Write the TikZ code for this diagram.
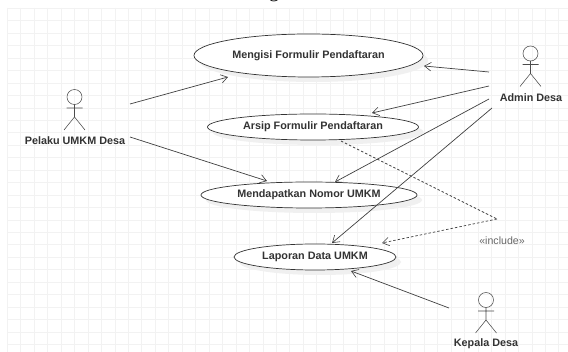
\documentclass[tikz,border=0pt]{standalone}
\usepackage{fontspec}
\setmainfont{Liberation Sans}
\newfontfamily\serifcut{Liberation Serif}
\usetikzlibrary{arrows.meta,shapes.geometric}
\tikzset{
 x=1pt,y=-1pt,
 usecase/.style={draw=black!80,line width=.7pt,fill=white,shape=ellipse,inner sep=0pt,font=\fontsize{10.8}{12}\selectfont\bfseries,text=black!80},
 lbl/.style={font=\fontsize{10.8}{12}\selectfont\bfseries,text=black!80,inner sep=0pt},
 conn/.style={draw=black!75,line width=.7pt,-{Straight Barb[length=6.5pt,width=8.5pt,line width=.6pt]}},
 dep/.style={conn,dash pattern=on 2.5pt off 2pt},
 act/.style={draw=black!70,line width=.55pt}
}
\newcommand{\actorfig}[2]{%
 \draw[act] (#1,#2) circle (7.5);
 \draw[act] (#1,#2+7.5) -- (#1,#2+20) (#1-8,#2+11) -- (#1+8,#2+11) (#1-10.5,#2+33) -- (#1,#2+20) -- (#1+10.5,#2+33);}
\begin{document}
\begin{tikzpicture}
\useasboundingbox (0,0) rectangle (568,352);
\fill[white] (0,0) rectangle (568,352);
\begin{scope}
\clip (7,8) rectangle (568,352);
\foreach \i in {0,...,41}{\draw[black!5,line width=.7pt] (7.3+13.45*\i,8)--(7.3+13.45*\i,352);}
\foreach \i in {0,...,27}{\draw[black!5,line width=.7pt] (7,8.3+12.45*\i)--(568,8.3+12.45*\i);}
\end{scope}
\fill[black!6] (313.5,60.5) ellipse (114.5 and 21.5);
\fill[black!6] (318,132) ellipse (105.5 and 13);
\fill[black!6] (314,200) ellipse (108 and 13);
\fill[black!6] (320,262) ellipse (81 and 13);
\node[font=\serifcut\fontsize{20}{22}\selectfont,inner sep=0pt,anchor=base] (ttl) at (274,-2.5) {g};
\node[usecase,minimum width=229pt,minimum height=43pt] (u1) at (308.5,55.5) {Mengisi Formulir Pendaftaran};
\node[usecase,minimum width=211pt,minimum height=26pt] (u2) at (313,127) {Arsip Formulir Pendaftaran};
\node[usecase,minimum width=216pt,minimum height=26pt] (u3) at (309,195) {Mendapatkan Nomor UMKM};
\node[usecase,minimum width=162pt,minimum height=26pt] (u4) at (315,257) {Laporan Data UMKM};
\actorfig{74.5}{97}
\actorfig{530.5}{53.5}
\actorfig{486}{300}
\node[lbl] (a1) at (75,141) {Pelaku UMKM Desa};
\node[lbl] (a2) at (531,97.5) {Admin Desa};
\node[lbl] (a3) at (486,344) {Kepala Desa};
\node[font=\fontsize{10.6}{12}\selectfont,text=black!60,inner sep=0pt] (inc) at (502,241) {«include»};
\coordinate (p1) at (130,104);
\coordinate (p2) at (130,137);
\coordinate (q1) at (489,72);
\coordinate (q2) at (489,86);
\coordinate (q3) at (489,99);
\coordinate (q4) at (492,108);
\coordinate (k) at (449,308);
\coordinate (bend) at (497,219);
\coordinate (t1) at (228,77);
\coordinate (t2) at (267,181);
\coordinate (t3) at (424,66);
\coordinate (t4) at (372,113);
\coordinate (t5) at (335,182);
\coordinate (t6) at (332,243);
\coordinate (t7) at (351,271);
\coordinate (d0) at (341,141);
\coordinate (d1) at (382,243);
\draw[conn] (p1) -- (t1);
\draw[conn] (p2) -- (t2);
\draw[conn] (q1) -- (t3);
\draw[conn] (q2) -- (t4);
\draw[conn] (q3) -- (t5);
\draw[conn] (q4) -- (t6);
\draw[conn] (k) -- (t7);
\draw[dep,-] (d0) -- (bend);
\draw[dep] (bend) -- (d1);
\end{tikzpicture}
\end{document}
